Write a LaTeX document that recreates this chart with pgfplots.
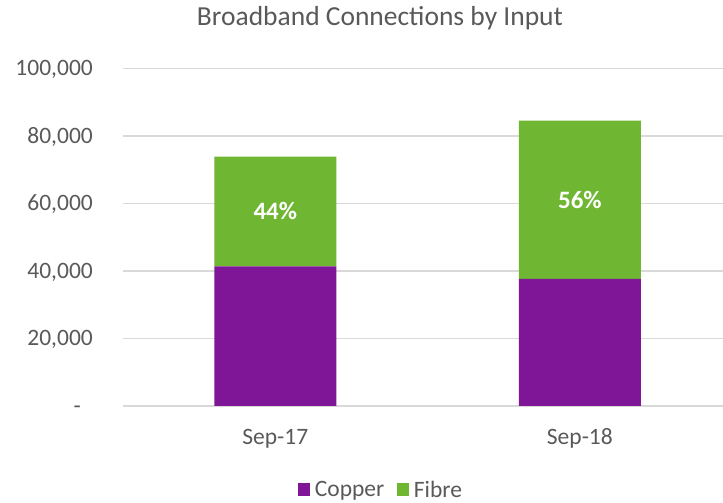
\documentclass[border=0pt]{standalone}
\usepackage{fontspec}
\setmainfont{Carlito}
\usepackage{pgfplots}
\pgfplotsset{compat=1.18}
\definecolor{copper}{HTML}{7F1597}
\definecolor{fibre}{HTML}{6FB632}
\definecolor{txt}{HTML}{595959}
\definecolor{gridc}{HTML}{D9D9D9}
\begin{document}
\begin{tikzpicture}
\useasboundingbox (0pt,0pt) rectangle (723pt,503pt);
\node[anchor=base, text=txt, font=\fontsize{27.5}{32}\selectfont, inner sep=0pt] at (380pt,477pt) {Broadband Connections by Input};
\pgfplotsset{common/.style={
  scale only axis, width=600pt, height=337.7pt,
  at={(123pt,97pt)}, anchor=south west,
  xmin=-0.5, xmax=1.47, ymin=0, ymax=100000}}
\begin{axis}[common,
  ybar stacked, bar width=122pt,
  scaled y ticks=false,
  xtick={0,1}, xticklabels={Sep-17,Sep-18},
  ytick={0,20000,40000,60000,80000,100000},
  yticklabels={{-\phantom{0}},{20,000},{40,000},{60,000},{80,000},{100,000}},
  ymajorgrids, grid style={draw=gridc, line width=1.4pt},
  axis line style={draw=none}, tick style={draw=none},
  /pgf/number format/assume math mode=true,
  ticklabel style={font=\fontsize{23.5}{28}\selectfont, text=txt, inner sep=0pt},
  yticklabel style={anchor=base east, xshift=-30pt, yshift=-7.5pt},
  xticklabel style={anchor=base, yshift=-39pt},
  legend style={at={(0.432,-0.249)}, anchor=center, draw=none, fill=none,
    legend columns=2, font=\fontsize{23.5}{28}\selectfont, text=txt,
    nodes={inner xsep=4.5pt, inner ysep=0pt},
    /tikz/every even column/.append style={column sep=8pt}},
  legend image code/.code={\fill[#1] (0pt,-5.5pt) rectangle (12.5pt,7pt);},
]
\addplot[fill=copper, draw=none] coordinates {(0,41340) (1,37610)};
\addlegendentry{Copper}
\addplot[fill=fibre, draw=none] coordinates {(0,32520) (1,46900)};
\addlegendentry{Fibre}
\end{axis}
\begin{axis}[common, hide axis]
\addplot[draw=none, mark=none, nodes near coords, point meta=explicit symbolic,
  nodes near coords style={anchor=center, text=white, font=\bfseries\fontsize{25}{30}\selectfont}]
  coordinates {(0,57600) [44\%] (1,61060) [56\%]};
\end{axis}
\end{tikzpicture}
\end{document}
